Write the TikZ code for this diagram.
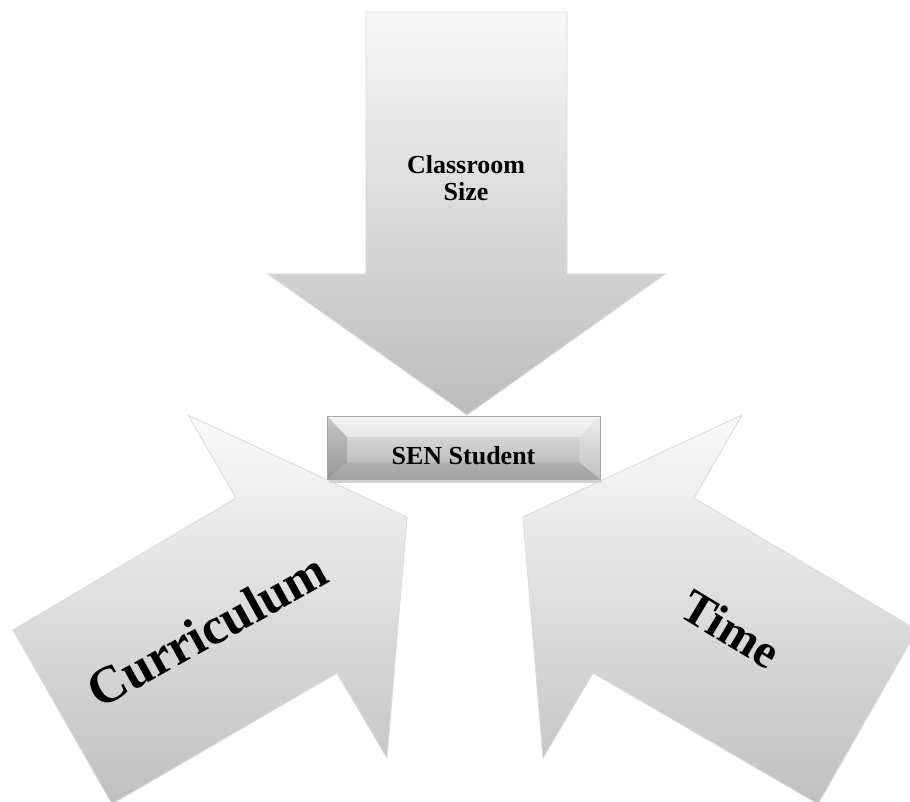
\documentclass[tikz,border=0pt]{standalone}
\usepackage{fontspec}
\setmainfont{Liberation Serif}
\definecolor{arrtop}{RGB}{250,250,250}
\definecolor{arrbot}{RGB}{192,192,192}
\definecolor{toptop}{RGB}{248,248,248}
\definecolor{topbot}{RGB}{188,188,188}
\definecolor{boxtop}{RGB}{232,232,232}
\definecolor{boxbot}{RGB}{176,176,176}
\definecolor{edge}{RGB}{218,218,218}
\begin{document}
\begin{tikzpicture}[x=1pt,y=-1pt,
  bigarrow/.style={draw=edge, line width=0.9pt, line join=miter},
  senbox/.style={rectangle, inner sep=0pt, minimum width=273pt, minimum height=63pt,
    top color=boxtop, bottom color=boxbot, draw=black!35, line width=0.5pt},
  lbl/.style={font=\bfseries, text=black, inner sep=0pt}]
\useasboundingbox (0,0) rectangle (910,801);
\clip (0,0) rectangle (910,801);
% top arrow: Classroom Size
\draw[bigarrow, top color=toptop, bottom color=topbot]
  (366,12) -- (567,12) -- (567,274) -- (665,274) -- (467,415) -- (268,274) -- (366,274) -- cycle;
% left arrow: Curriculum
\draw[bigarrow, top color=arrtop, bottom color=arrbot]
  (13,630) -- (236,498) -- (188,415) -- (407,517) -- (387,758) -- (337,673) -- (112,804) -- cycle;
% right arrow: Time
\draw[bigarrow, top color=arrtop, bottom color=arrbot]
  (917,630) -- (694,498) -- (742,415) -- (523,517) -- (543,758) -- (593,673) -- (818,804) -- cycle;
% SEN box with bevel
\fill[black!18] (330,480) rectangle (602,483);
\node[senbox] (sen) at (463.5,447.5) {};
\fill[white, opacity=0.45] (sen.north west) -- (sen.north east) -- ([xshift=-21pt,yshift=-21pt]sen.north east) -- ([xshift=20pt,yshift=-21pt]sen.north west) -- cycle;
\fill[black, opacity=0.14] (sen.north west) -- ([xshift=20pt,yshift=-21pt]sen.north west) -- ([xshift=20pt,yshift=17pt]sen.south west) -- (sen.south west) -- cycle;
\fill[white, opacity=0.22] (sen.north east) -- ([xshift=-21pt,yshift=-21pt]sen.north east) -- ([xshift=-21pt,yshift=17pt]sen.south east) -- (sen.south east) -- cycle;
\fill[black, opacity=0.08] (sen.south west) -- ([xshift=20pt,yshift=17pt]sen.south west) -- ([xshift=-21pt,yshift=17pt]sen.south east) -- (sen.south east) -- cycle;
\draw[black!35, line width=0.5pt] (sen.north west) rectangle (sen.south east);
% labels
\node[lbl, font=\bfseries\fontsize{26}{27}\selectfont, align=center] (classroom) at (466,178) {Classroom\\Size};
\node[lbl, font=\bfseries\fontsize{26}{27}\selectfont, anchor=base] (sentxt) at (463.5,464) {SEN Student};
\node[lbl, font=\bfseries\fontsize{52}{56}\selectfont, rotate=29] (curr) at (207,630) {Curriculum};
\node[lbl, font=\bfseries\fontsize{48}{52}\selectfont, rotate=-31] (time) at (731,629) {Time};
\end{tikzpicture}
\end{document}
